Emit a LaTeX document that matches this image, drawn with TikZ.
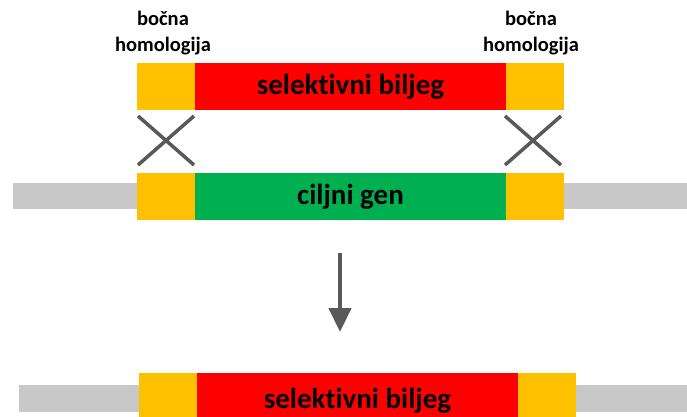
\documentclass[tikz,border=0pt]{standalone}
\usepackage{fontspec}
\setmainfont{Carlito}[Ligatures={NoCommon}]
\usetikzlibrary{arrows.meta}
\definecolor{ylw}{HTML}{FFC000}
\definecolor{rd}{HTML}{FF0000}
\definecolor{gr}{HTML}{00B050}
\definecolor{gry}{HTML}{C8C8C8}
\definecolor{dk}{HTML}{595959}
\tikzset{
  seg/.style={draw=none, inner sep=0pt, outer sep=0pt, anchor=north west},
  lbl/.style={font=\fontsize{29}{32}\selectfont\bfseries, text=black},
  side/.style={font=\fontsize{20.5}{26}\selectfont\bfseries, align=center, inner sep=0pt},
  xmark/.style={draw=dk, line width=3.5pt},
  arr/.style={draw=dk, line width=4.5pt, -{Triangle[width=22pt,length=24pt]}}
}
\begin{document}
\begin{tikzpicture}[x=1pt,y=-1pt]
\useasboundingbox (0,0) rectangle (687,416);
% top row
\node[seg, fill=ylw, minimum width=58pt, minimum height=47pt] (t1) at (137,63) {};
\node[seg, fill=rd, minimum width=311pt, minimum height=47pt, lbl] (t2) at (195,63) {selektivni biljeg};
\node[seg, fill=ylw, minimum width=58pt, minimum height=47pt] (t3) at (506,63) {};
% labels
\node[side] (s1) at (163,33) {bočna\\homologija};
\node[side] (s2) at (531,33) {bočna\\homologija};
% crosses
\draw[xmark] (138,116) -- (194,165) (194,116) -- (138,165);
\draw[xmark] (505,116) -- (561,165) (561,116) -- (505,165);
% middle row
\node[seg, fill=gry, minimum width=124pt, minimum height=26pt] (m0) at (13,183) {};
\node[seg, fill=gry, minimum width=123pt, minimum height=26pt] (m4) at (564,183) {};
\node[seg, fill=ylw, minimum width=58pt, minimum height=47pt] (m1) at (137,173) {};
\node[seg, fill=gr, minimum width=311pt, minimum height=47pt, lbl] (m2) at (195,173) {ciljni gen};
\node[seg, fill=ylw, minimum width=58pt, minimum height=47pt] (m3) at (506,173) {};
% arrow
\coordinate (a1) at (340,253);
\coordinate (a2) at (340,332);
\draw[arr] (a1) -- (a2);
% bottom row
\node[seg, fill=gry, minimum width=120pt, minimum height=27pt] (b0) at (19,385) {};
\node[seg, fill=gry, minimum width=111pt, minimum height=27pt] (b4) at (576,385) {};
\node[seg, fill=ylw, minimum width=58pt, minimum height=56pt] (b1) at (139,373) {};
\node[seg, fill=rd, minimum width=321pt, minimum height=56pt, lbl] (b2) at (197,373) {selektivni biljeg};
\node[seg, fill=ylw, minimum width=58pt, minimum height=56pt] (b3) at (518,373) {};
\end{tikzpicture}
\end{document}
